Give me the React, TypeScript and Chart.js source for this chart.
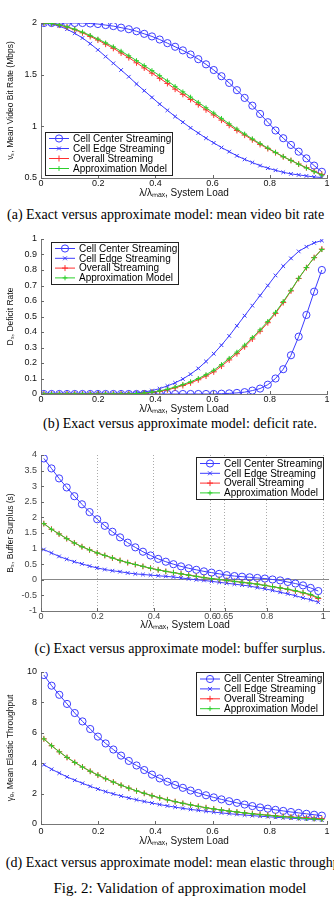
import React, { useEffect, useRef } from "react";
import { Chart, registerables } from "chart.js";

Chart.register(...registerables);

// ---------------- data ----------------
const LOAD = [0.01, 0.037, 0.064, 0.091, 0.118, 0.145, 0.172, 0.199, 0.226, 0.253, 0.28, 0.307, 0.334, 0.361, 0.388, 0.415, 0.442, 0.469, 0.496, 0.523, 0.55, 0.577, 0.604, 0.631, 0.658, 0.685, 0.712, 0.739, 0.766, 0.793, 0.82, 0.847, 0.874, 0.901, 0.928, 0.955, 0.982];

const LEGEND_LABELS = ["Cell Center Streaming", "Cell Edge Streaming", "Overall Streaming", "Approximation Model"];

// (a) mean video bit rate
const RATE_CENTER = [2.0, 2.0, 2.0, 2.0, 2.0, 2.0, 1.995, 1.99, 1.98, 1.97, 1.955, 1.94, 1.92, 1.895, 1.87, 1.84, 1.805, 1.77, 1.735, 1.695, 1.65, 1.6, 1.545, 1.485, 1.42, 1.35, 1.275, 1.2, 1.12, 1.04, 0.96, 0.885, 0.82, 0.755, 0.69, 0.62, 0.56];
const RATE_EDGE = [2.0, 1.99, 1.97, 1.94, 1.9, 1.855, 1.8, 1.74, 1.675, 1.61, 1.545, 1.48, 1.41, 1.345, 1.28, 1.215, 1.155, 1.095, 1.04, 0.985, 0.935, 0.885, 0.84, 0.795, 0.755, 0.715, 0.68, 0.65, 0.62, 0.595, 0.575, 0.555, 0.54, 0.53, 0.52, 0.51, 0.505];
const RATE_OVERALL = [2.0, 1.995, 1.98, 1.96, 1.935, 1.905, 1.87, 1.835, 1.795, 1.755, 1.71, 1.665, 1.615, 1.565, 1.515, 1.465, 1.415, 1.36, 1.31, 1.26, 1.21, 1.16, 1.11, 1.06, 1.01, 0.96, 0.915, 0.87, 0.825, 0.785, 0.745, 0.705, 0.67, 0.635, 0.6, 0.565, 0.535];
const RATE_APPROX = [2.0, 1.995, 1.982, 1.963, 1.94, 1.912, 1.88, 1.845, 1.808, 1.77, 1.727, 1.683, 1.636, 1.588, 1.54, 1.49, 1.44, 1.386, 1.334, 1.283, 1.232, 1.18, 1.128, 1.077, 1.025, 0.974, 0.926, 0.879, 0.833, 0.79, 0.748, 0.707, 0.67, 0.633, 0.597, 0.561, 0.528];

// (b) deficit rate
const DEF_CENTER = [0, 0, 0, 0, 0, 0, 0, 0, 0, 0, 0, 0, 0, 0, 0, 0, 0, 0, 0, 0, 0, 0, 0, 0.002, 0.004, 0.007, 0.012, 0.022, 0.035, 0.06, 0.1, 0.16, 0.25, 0.37, 0.51, 0.66, 0.8];
const DEF_EDGE = [0, 0, 0, 0, 0, 0, 0, 0, 0, 0, 0.001, 0.003, 0.007, 0.013, 0.022, 0.035, 0.052, 0.072, 0.097, 0.128, 0.165, 0.21, 0.26, 0.315, 0.375, 0.44, 0.505, 0.57, 0.635, 0.7, 0.765, 0.825, 0.875, 0.92, 0.95, 0.975, 0.99];
const DEF_OVERALL = [0, 0, 0, 0, 0, 0, 0, 0, 0, 0, 0, 0, 0.002, 0.005, 0.01, 0.017, 0.027, 0.04, 0.055, 0.072, 0.092, 0.116, 0.143, 0.18, 0.22, 0.26, 0.305, 0.355, 0.405, 0.46, 0.52, 0.59, 0.665, 0.745, 0.815, 0.88, 0.935];
const DEF_APPROX = [0, 0, 0, 0, 0, 0, 0, 0, 0, 0, 0, 0, 0.003, 0.006, 0.012, 0.02, 0.031, 0.045, 0.061, 0.079, 0.1, 0.125, 0.153, 0.19, 0.23, 0.27, 0.315, 0.364, 0.414, 0.468, 0.527, 0.596, 0.669, 0.747, 0.816, 0.879, 0.932];

// (c) buffer surplus
const BUF_CENTER = [3.89, 3.57, 3.25, 2.96, 2.68, 2.42, 2.17, 1.94, 1.73, 1.54, 1.36, 1.19, 1.04, 0.9, 0.78, 0.67, 0.58, 0.5, 0.43, 0.37, 0.32, 0.27, 0.23, 0.19, 0.15, 0.12, 0.1, 0.08, 0.06, 0.04, 0.01, -0.02, -0.07, -0.12, -0.18, -0.26, -0.36];
const BUF_EDGE = [0.97, 0.86, 0.75, 0.66, 0.58, 0.51, 0.44, 0.38, 0.33, 0.29, 0.26, 0.22, 0.19, 0.17, 0.15, 0.13, 0.11, 0.09, 0.06, 0.03, 0.0, -0.02, -0.05, -0.08, -0.11, -0.14, -0.17, -0.2, -0.25, -0.29, -0.34, -0.4, -0.45, -0.51, -0.58, -0.64, -0.72];
const BUF_OVERALL = [1.8, 1.62, 1.47, 1.32, 1.18, 1.06, 0.96, 0.86, 0.78, 0.7, 0.62, 0.55, 0.49, 0.43, 0.37, 0.32, 0.27, 0.23, 0.19, 0.15, 0.11, 0.07, 0.04, 0.01, -0.02, -0.05, -0.08, -0.11, -0.14, -0.18, -0.22, -0.26, -0.31, -0.36, -0.42, -0.49, -0.6];
const BUF_APPROX = [1.8, 1.62, 1.47, 1.32, 1.18, 1.06, 0.96, 0.86, 0.78, 0.7, 0.62, 0.55, 0.49, 0.43, 0.37, 0.32, 0.27, 0.23, 0.19, 0.15, 0.11, 0.07, 0.04, 0.01, -0.02, -0.05, -0.08, -0.11, -0.14, -0.18, -0.22, -0.26, -0.3, -0.35, -0.41, -0.47, -0.57];
const BUF_X_TICKS = [0, 0.2, 0.4, 0.6, 0.65, 0.8, 1];

// (d) mean elastic throughput
const THR_CENTER = [9.8, 9.1, 8.5, 7.9, 7.3, 6.75, 6.25, 5.75, 5.3, 4.9, 4.5, 4.15, 3.85, 3.55, 3.25, 3.0, 2.78, 2.57, 2.38, 2.2, 2.04, 1.89, 1.75, 1.62, 1.5, 1.39, 1.28, 1.18, 1.09, 1.01, 0.93, 0.86, 0.79, 0.73, 0.67, 0.61, 0.55];
const THR_EDGE = [3.9, 3.6, 3.35, 3.1, 2.88, 2.68, 2.48, 2.3, 2.13, 1.98, 1.84, 1.71, 1.59, 1.48, 1.38, 1.28, 1.19, 1.11, 1.03, 0.96, 0.9, 0.84, 0.78, 0.73, 0.68, 0.63, 0.59, 0.55, 0.51, 0.48, 0.44, 0.41, 0.38, 0.35, 0.32, 0.3, 0.27];
const THR_OVERALL = [5.6, 5.15, 4.75, 4.38, 4.05, 3.75, 3.47, 3.22, 2.98, 2.76, 2.55, 2.36, 2.18, 2.02, 1.86, 1.72, 1.59, 1.47, 1.36, 1.26, 1.16, 1.07, 0.99, 0.92, 0.85, 0.79, 0.73, 0.68, 0.63, 0.58, 0.54, 0.5, 0.46, 0.43, 0.4, 0.37, 0.34];
const THR_APPROX = [5.6, 5.15, 4.75, 4.38, 4.05, 3.75, 3.47, 3.22, 2.98, 2.76, 2.55, 2.36, 2.18, 2.02, 1.86, 1.72, 1.59, 1.47, 1.36, 1.26, 1.16, 1.07, 0.99, 0.92, 0.85, 0.79, 0.73, 0.67, 0.62, 0.57, 0.52, 0.48, 0.44, 0.4, 0.36, 0.33, 0.29];

const X_TITLE = "λ/λₘₐₓ, System Load";

// ---------------- styles ----------------
const FONT = "'Liberation Sans', Arial, Helvetica, sans-serif";
const SERIF = "'Liberation Serif', 'Times New Roman', Times, serif";
const W = 334;
const BLUE = "#3c3cff";
const RED = "#ff2e2e";
const GREEN = "#2ccf2c";
const STYLES = [
  { color: BLUE, style: "circle", radius: 3.6, order: 4 },
  { color: BLUE, style: "crossRot", radius: 2.6, order: 3 },
  { color: RED, style: "cross", radius: 3, order: 2 },
  { color: GREEN, style: "cross", radius: 2.4, order: 1 },
];

function mark(ctx: CanvasRenderingContext2D, style: string, x: number, y: number, r: number) {
  ctx.beginPath();
  if (style === "circle") {
    ctx.arc(x, y, r, 0, Math.PI * 2);
  } else if (style === "crossRot") {
    const d = r * 0.75;
    ctx.moveTo(x - d, y - d);
    ctx.lineTo(x + d, y + d);
    ctx.moveTo(x - d, y + d);
    ctx.lineTo(x + d, y - d);
  } else {
    ctx.moveTo(x - r, y);
    ctx.lineTo(x + r, y);
    ctx.moveTo(x, y - r);
    ctx.lineTo(x, y + r);
  }
  ctx.stroke();
}

const decorPlugin = {
  id: "decor",
  afterDraw(chart: any, _args: any, opts: any) {
    const ctx: CanvasRenderingContext2D = chart.ctx;
    const { left, bottom } = chart.chartArea;
    const xs = chart.scales.x;
    const ys = chart.scales.y;
    ctx.save();
    // inward tick marks
    ctx.strokeStyle = "#666";
    ctx.lineWidth = 1;
    ctx.beginPath();
    xs.ticks.forEach((t: any) => {
      const p = Math.round(xs.getPixelForValue(t.value)) + 0.5;
      ctx.moveTo(p, bottom);
      ctx.lineTo(p, bottom - 3);
    });
    ys.ticks.forEach((t: any) => {
      const p = Math.round(ys.getPixelForValue(t.value)) + 0.5;
      ctx.moveTo(left, p);
      ctx.lineTo(left + 3, p);
    });
    ctx.stroke();
    // legend box
    const b = opts.box;
    ctx.fillStyle = "#fff";
    ctx.fillRect(b.x, b.y, b.w, b.h);
    ctx.strokeStyle = "#222";
    ctx.strokeRect(b.x + 0.5, b.y + 0.5, b.w, b.h);
    ctx.font = `10px ${FONT}`;
    ctx.textBaseline = "middle";
    ctx.textAlign = "left";
    chart.data.datasets.forEach((ds: any, i: number) => {
      const st = STYLES[i];
      const y = b.y + b.first + i * b.step;
      ctx.strokeStyle = st.color;
      ctx.lineWidth = 1;
      ctx.beginPath();
      ctx.moveTo(b.x + 4, y);
      ctx.lineTo(b.x + 24, y);
      ctx.stroke();
      mark(ctx, st.style, b.x + 14, y, st.radius);
      ctx.fillStyle = "#000";
      ctx.fillText(ds.label, b.x + 28, y + 0.5);
    });
    ctx.restore();
  },
};

type PanelProps = {
  top: number;
  height: number;
  area: { left: number; right: number; top: number; bottom: number };
  xMax: number;
  xTicks?: number[];
  xTickPad: number;
  yMin: number;
  yMax: number;
  yStep: number;
  yTitle: string;
  series: number[][];
  legend: { x: number; y: number; w: number; h: number; first: number; step: number };
  light?: boolean;
};

const fmt = (v: any) => String(+Number(v).toFixed(2));

function Panel(p: PanelProps) {
  const ref = useRef<HTMLCanvasElement | null>(null);
  useEffect(() => {
    if (!ref.current) return;
    const tickColor = p.light ? "#444" : "#111";
    const chart = new Chart(ref.current, {
      type: "line",
      data: {
        datasets: p.series.map((vals, i) => ({
          label: LEGEND_LABELS[i],
          data: LOAD.map((x, j) => ({ x, y: vals[j] })),
          borderColor: STYLES[i].color,
          backgroundColor: "rgba(0,0,0,0)",
          borderWidth: 1,
          pointStyle: STYLES[i].style as any,
          pointRadius: STYLES[i].radius,
          pointBorderColor: STYLES[i].color,
          pointBackgroundColor: "rgba(0,0,0,0)",
          pointBorderWidth: 1,
          tension: 0,
          order: STYLES[i].order,
        })),
      },
      options: {
        animation: false,
        responsive: false,
        maintainAspectRatio: false,
        events: [],
        layout: { padding: { left: 0, top: p.area.top, right: W - p.area.right, bottom: 0 } },
        plugins: {
          legend: { display: false },
          tooltip: { enabled: false },
          decor: { box: p.legend },
        } as any,
        scales: {
          x: {
            type: "linear",
            min: 0,
            max: p.xMax,
            afterFit: (s: any) => {
              s.height = p.height - p.area.bottom;
            },
            afterBuildTicks: p.xTicks
              ? (s: any) => {
                  s.ticks = p.xTicks!.map((v) => ({ value: v }));
                }
              : undefined,
            ticks: {
              stepSize: 0.2,
              autoSkip: false,
              maxRotation: 0,
              padding: p.xTickPad,
              color: tickColor,
              font: { size: 9, family: FONT },
              callback: fmt,
            },
            grid: {
              display: !!p.xTicks,
              drawTicks: false,
              color: (c: any) => (c.tick && c.tick.value > 0 ? "#aaa" : "rgba(0,0,0,0)"),
              lineWidth: 1,
            },
            border: { display: true, color: "#777", width: 1, dash: p.xTicks ? [1, 2] : [] },
            title: {
              display: true,
              text: X_TITLE,
              color: "#111",
              font: { size: 10, family: FONT, lineHeight: 1 },
              padding: { top: 0, bottom: 0.5 },
            },
          },
          y: {
            type: "linear",
            min: p.yMin,
            max: p.yMax,
            afterFit: (s: any) => {
              s.width = p.area.left;
            },
            ticks: {
              stepSize: p.yStep,
              autoSkip: false,
              padding: 4,
              color: tickColor,
              font: { size: 9, family: FONT },
              callback: fmt,
            },
            grid: {
              display: !!p.xTicks,
              drawTicks: false,
              color: (c: any) => (c.tick && c.tick.value === 0 ? "#888" : "rgba(0,0,0,0)"),
              lineWidth: 1,
            },
            border: { display: true, color: "#777", width: 1 },
            title: {
              display: true,
              text: p.yTitle,
              color: "#111",
              font: { size: 8.5, family: FONT, lineHeight: 1 },
              padding: { top: 6, bottom: 0 },
            },
          },
        },
      },
      plugins: [decorPlugin as any],
    });
    return () => chart.destroy();
  }, []);
  return (
    <canvas
      ref={ref}
      width={W}
      height={p.height}
      style={{ position: "absolute", left: 0, top: p.top, width: W, height: p.height }}
    />
  );
}

const capStyle: React.CSSProperties = {
  position: "absolute",
  fontFamily: SERIF,
  fontSize: 14,
  lineHeight: "16px",
  whiteSpace: "nowrap",
  color: "#000",
};

export default function App() {
  return (
    <div
      style={{
        position: "absolute",
        left: 0,
        top: 0,
        width: W,
        height: 905,
        overflow: "hidden",
        background: "#fff",
      }}
    >
      <Panel
        top={0}
        height={199}
        area={{ left: 41, right: 327, top: 23, bottom: 178 }}
        xMax={1}
        xTickPad={0.5}
        yMin={0.5}
        yMax={2}
        yStep={0.5}
        yTitle="vₛ, Mean Video Bit Rate (Mbps)"
        series={[RATE_CENTER, RATE_EDGE, RATE_OVERALL, RATE_APPROX]}
        legend={{ x: 45, y: 132, w: 127, h: 43, first: 6.5, step: 10 }}
      />
      <Panel
        top={225}
        height={190}
        area={{ left: 41, right: 327, top: 14, bottom: 169 }}
        xMax={1}
        xTickPad={0.5}
        yMin={0}
        yMax={1}
        yStep={0.1}
        yTitle="Dₛ, Deficit Rate"
        series={[DEF_CENTER, DEF_EDGE, DEF_OVERALL, DEF_APPROX]}
        legend={{ x: 51, y: 17, w: 127, h: 42, first: 6.5, step: 9.8 }}
      />
      <Panel
        top={440}
        height={191}
        area={{ left: 41, right: 332, top: 15, bottom: 171 }}
        xMax={1.02}
        xTicks={BUF_X_TICKS}
        xTickPad={0.5}
        yMin={-1}
        yMax={4}
        yStep={0.5}
        yTitle="Bₛ, Buffer Surplus (s)"
        series={[BUF_CENTER, BUF_EDGE, BUF_OVERALL, BUF_APPROX]}
        legend={{ x: 196, y: 17, w: 127, h: 42, first: 6.5, step: 9.8 }}
        light
      />
      <Panel
        top={660}
        height={187}
        area={{ left: 41, right: 327, top: 12, bottom: 164 }}
        xMax={1}
        xTickPad={2.5}
        yMin={0}
        yMax={10}
        yStep={2}
        yTitle="γₑ, Mean Elastic Throughput"
        series={[THR_CENTER, THR_EDGE, THR_OVERALL, THR_APPROX]}
        legend={{ x: 196, y: 12, w: 127, h: 43, first: 7, step: 9.9 }}
      />
      <div style={{ ...capStyle, left: 7, top: 207 }}>
        (a) Exact versus approximate model: mean video bit rate
      </div>
      <div style={{ ...capStyle, left: -20, width: 400, textAlign: "center", top: 416 }}>
        (b) Exact versus approximate model: deficit rate.
      </div>
      <div style={{ ...capStyle, left: -20, width: 400, textAlign: "center", top: 641 }}>
        (c) Exact versus approximate model: buffer surplus.
      </div>
      <div style={{ ...capStyle, left: -20, width: 400, textAlign: "center", top: 855 }}>
        (d) Exact versus approximate model: mean elastic throughput.
      </div>
      <div style={{ ...capStyle, fontSize: 15, left: -20, width: 400, textAlign: "center", top: 880 }}>
        Fig. 2: Validation of approximation model
      </div>
    </div>
  );
}
